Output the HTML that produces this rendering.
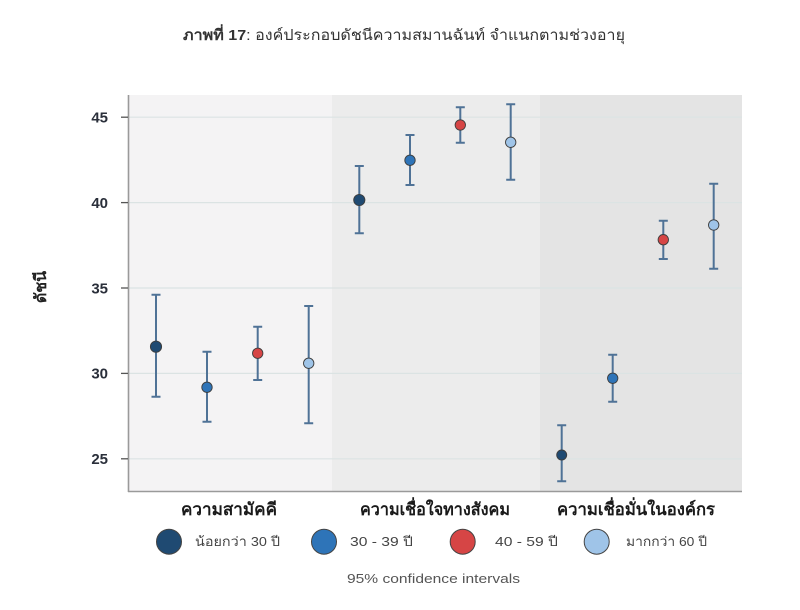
<!DOCTYPE html>
<html>
<head>
<meta charset="utf-8">
<style>
html,body{margin:0;padding:0;background:#fff;}
svg{display:block;}
text{font-family:"Liberation Sans","DejaVu Sans",sans-serif;}
</style>
</head>
<body>
<svg width="800" height="610" viewBox="0 0 800 610" xmlns="http://www.w3.org/2000/svg">
  <rect x="0" y="0" width="800" height="610" fill="#ffffff"/>
  <!-- Title -->
  <text x="183" y="40" font-size="15" fill="#333" textLength="442" lengthAdjust="spacingAndGlyphs"><tspan font-weight="bold">ภาพที่ 17</tspan>: องค์ประกอบดัชนีความสมานฉันท์ จำแนกตามช่วงอายุ</text>

  <!-- Panels -->
  <rect x="129" y="95" width="203" height="396" fill="#f4f3f4"/>
  <rect x="332" y="95" width="208" height="396" fill="#ececec"/>
  <rect x="540" y="95" width="202" height="396" fill="#e4e4e4"/>

  <!-- Gridlines -->
  <g stroke="#dbe3e3" stroke-width="1.2">
    <line x1="129" y1="117.2" x2="742" y2="117.2"/>
    <line x1="129" y1="202.6" x2="742" y2="202.6"/>
    <line x1="129" y1="288" x2="742" y2="288"/>
    <line x1="129" y1="373.4" x2="742" y2="373.4"/>
    <line x1="129" y1="458.8" x2="742" y2="458.8"/>
  </g>

  <!-- Axes -->
  <line x1="128.5" y1="95" x2="128.5" y2="492" stroke="#9a9a9a" stroke-width="1.6"/>
  <line x1="128" y1="491.5" x2="742" y2="491.5" stroke="#9a9a9a" stroke-width="1.6"/>
  <g stroke="#555" stroke-width="1.3">
    <line x1="121" y1="117.2" x2="128" y2="117.2"/>
    <line x1="121" y1="202.6" x2="128" y2="202.6"/>
    <line x1="121" y1="288" x2="128" y2="288"/>
    <line x1="121" y1="373.4" x2="128" y2="373.4"/>
    <line x1="121" y1="458.8" x2="128" y2="458.8"/>
  </g>
  <g font-size="15" font-weight="bold" fill="#2a2f3a" text-anchor="end">
    <text x="108" y="122.5">45</text>
    <text x="108" y="207.9">40</text>
    <text x="108" y="293.3">35</text>
    <text x="108" y="378.7">30</text>
    <text x="108" y="464.1">25</text>
  </g>
  <text transform="translate(46,287) rotate(-90)" font-size="16" font-weight="bold" fill="#222" text-anchor="middle">ดัชนี</text>

  <!-- Error bars -->
  <g stroke="#4f7296" stroke-width="2" fill="none">
    <!-- group 1 -->
    <path d="M156 294.7V396.7M151.5 294.7H160.5M151.5 396.7H160.5"/>
    <path d="M207 351.7V421.7M202.5 351.7H211.5M202.5 421.7H211.5"/>
    <path d="M257.7 326.7V380M253.2 326.7H262.2M253.2 380H262.2"/>
    <path d="M308.7 306V423.3M304.2 306H313.2M304.2 423.3H313.2"/>
    <!-- group 2 -->
    <path d="M359.3 166V233.3M354.8 166H363.8M354.8 233.3H363.8"/>
    <path d="M410 135V185M405.5 135H414.5M405.5 185H414.5"/>
    <path d="M460.3 107.3V142.7M455.8 107.3H464.8M455.8 142.7H464.8"/>
    <path d="M510.7 104.3V179.7M506.2 104.3H515.2M506.2 179.7H515.2"/>
    <!-- group 3 -->
    <path d="M561.7 425.3V481.3M557.2 425.3H566.2M557.2 481.3H566.2"/>
    <path d="M612.7 354.7V401.7M608.2 354.7H617.2M608.2 401.7H617.2"/>
    <path d="M663.3 220.7V259M658.8 220.7H667.8M658.8 259H667.8"/>
    <path d="M713.7 183.7V268.7M709.2 183.7H718.2M709.2 268.7H718.2"/>
  </g>

  <!-- Points -->
  <g stroke="#3d3d3d" stroke-width="0.9">
    <circle cx="156" cy="346.7" r="5.6" fill="#1f4a72"/>
    <circle cx="207" cy="387.3" r="5.2" fill="#2e74b8"/>
    <circle cx="257.7" cy="353.3" r="5.2" fill="#d64545"/>
    <circle cx="308.7" cy="363.3" r="5.2" fill="#9fc4e8"/>

    <circle cx="359.3" cy="200" r="5.6" fill="#1f4a72"/>
    <circle cx="410" cy="160.3" r="5.2" fill="#2e74b8"/>
    <circle cx="460.3" cy="125" r="5.2" fill="#d64545"/>
    <circle cx="510.7" cy="142.3" r="5.2" fill="#9fc4e8"/>

    <circle cx="561.7" cy="455" r="5" fill="#1f4a72"/>
    <circle cx="612.7" cy="378.3" r="5.2" fill="#2e74b8"/>
    <circle cx="663.3" cy="239.7" r="5.2" fill="#d64545"/>
    <circle cx="713.7" cy="225" r="5.2" fill="#9fc4e8"/>
  </g>

  <!-- Category labels -->
  <g font-size="17" font-weight="bold" fill="#1a1a1a">
    <text x="181" y="515" textLength="96" lengthAdjust="spacingAndGlyphs">ความสามัคคี</text>
    <text x="360" y="515" textLength="150" lengthAdjust="spacingAndGlyphs">ความเชื่อใจทางสังคม</text>
    <text x="557" y="515" textLength="158" lengthAdjust="spacingAndGlyphs">ความเชื่อมั่นในองค์กร</text>
  </g>

  <!-- Legend -->
  <g stroke="#444" stroke-width="1">
    <circle cx="169" cy="541.7" r="12.5" fill="#1f4a72"/>
    <circle cx="324" cy="541.7" r="12.5" fill="#2e74b8"/>
    <circle cx="462.7" cy="541.7" r="12.5" fill="#d64545"/>
    <circle cx="596.7" cy="541.7" r="12.5" fill="#9fc4e8"/>
  </g>
  <g font-size="13" fill="#444">
    <text x="195" y="546" textLength="85" lengthAdjust="spacingAndGlyphs">น้อยกว่า 30 ปี</text>
    <text x="350" y="546" textLength="63" lengthAdjust="spacingAndGlyphs">30 - 39 ปี</text>
    <text x="495" y="546" textLength="63" lengthAdjust="spacingAndGlyphs">40 - 59 ปี</text>
    <text x="626" y="546" textLength="81" lengthAdjust="spacingAndGlyphs">มากกว่า 60 ปี</text>
  </g>
  <text x="347" y="583" font-size="13" fill="#555" textLength="173" lengthAdjust="spacingAndGlyphs">95% confidence intervals</text>
</svg>
</body>
</html>
